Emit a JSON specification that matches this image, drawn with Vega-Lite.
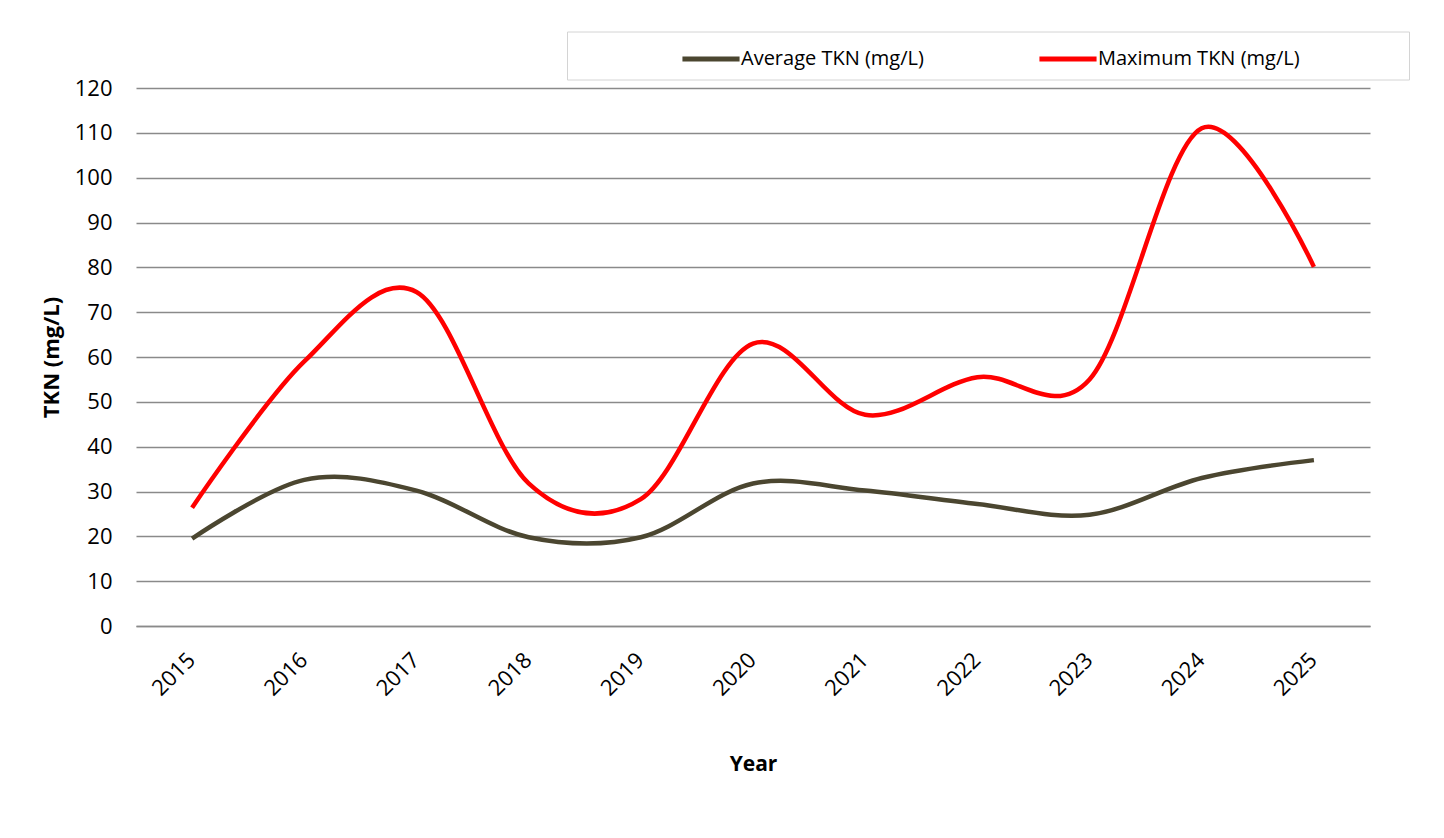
{
  "$schema": "https://vega.github.io/schema/vega-lite/v6.json",
  "width": 1234,
  "height": 538,
  "autosize": {"type": "none"},
  "padding": {"left": 136, "top": 88, "right": 74, "bottom": 212},
  "background": "white",
  "config": {
    "view": {"stroke": null},
    "font": "Open Sans"
  },
  "data": {
    "values": [
      {"Year": "2015", "Series": "Average TKN (mg/L)", "TKN": 19.5},
      {"Year": "2016", "Series": "Average TKN (mg/L)", "TKN": 32.6},
      {"Year": "2017", "Series": "Average TKN (mg/L)", "TKN": 30.2},
      {"Year": "2018", "Series": "Average TKN (mg/L)", "TKN": 19.8},
      {"Year": "2019", "Series": "Average TKN (mg/L)", "TKN": 19.8},
      {"Year": "2020", "Series": "Average TKN (mg/L)", "TKN": 31.8},
      {"Year": "2021", "Series": "Average TKN (mg/L)", "TKN": 30.2},
      {"Year": "2022", "Series": "Average TKN (mg/L)", "TKN": 27.2},
      {"Year": "2023", "Series": "Average TKN (mg/L)", "TKN": 24.8},
      {"Year": "2024", "Series": "Average TKN (mg/L)", "TKN": 33.0},
      {"Year": "2025", "Series": "Average TKN (mg/L)", "TKN": 37.0},
      {"Year": "2015", "Series": "Maximum TKN (mg/L)", "TKN": 26.4},
      {"Year": "2016", "Series": "Maximum TKN (mg/L)", "TKN": 59.0},
      {"Year": "2017", "Series": "Maximum TKN (mg/L)", "TKN": 74.5},
      {"Year": "2018", "Series": "Maximum TKN (mg/L)", "TKN": 31.8},
      {"Year": "2019", "Series": "Maximum TKN (mg/L)", "TKN": 28.3},
      {"Year": "2020", "Series": "Maximum TKN (mg/L)", "TKN": 63.0},
      {"Year": "2021", "Series": "Maximum TKN (mg/L)", "TKN": 47.1},
      {"Year": "2022", "Series": "Maximum TKN (mg/L)", "TKN": 55.5},
      {"Year": "2023", "Series": "Maximum TKN (mg/L)", "TKN": 55.0},
      {"Year": "2024", "Series": "Maximum TKN (mg/L)", "TKN": 111.0},
      {"Year": "2025", "Series": "Maximum TKN (mg/L)", "TKN": 80.1}
    ]
  },
  "mark": {"type": "line", "interpolate": "cardinal", "strokeWidth": 4.5, "strokeCap": "butt"},
  "encoding": {
    "x": {
      "field": "Year",
      "type": "ordinal",
      "scale": {"type": "point", "padding": 0.5},
      "axis": {
        "title": "Year",
        "titleFont": "Open Sans",
        "titleFontSize": 21,
        "titleFontWeight": "bold",
        "titleColor": "black",
        "titlePadding": 54,
        "labelAngle": -45,
        "labelFont": "Open Sans",
        "labelFontSize": 22,
        "labelColor": "black",
        "labelPadding": 23,
        "labelOffset": -8,
        "ticks": false,
        "domain": true,
        "domainColor": "#8a8a8a",
        "domainWidth": 1.5,
        "grid": false
      }
    },
    "y": {
      "field": "TKN",
      "type": "quantitative",
      "scale": {"domain": [0, 120], "nice": false, "zero": true},
      "axis": {
        "title": "TKN (mg/L)",
        "titleFont": "Open Sans",
        "titleFontSize": 22,
        "titleFontWeight": "bold",
        "titleColor": "black",
        "titlePadding": 11,
        "values": [0, 10, 20, 30, 40, 50, 60, 70, 80, 90, 100, 110, 120],
        "labelFont": "Open Sans",
        "labelFontSize": 22,
        "labelColor": "black",
        "labelPadding": 24,
        "ticks": false,
        "domain": false,
        "grid": true,
        "gridColor": "#8a8a8a",
        "gridWidth": 1.5
      }
    },
    "color": {
      "field": "Series",
      "type": "nominal",
      "scale": {
        "domain": ["Average TKN (mg/L)", "Maximum TKN (mg/L)"],
        "range": ["#4b4630", "#ff0000"]
      },
      "legend": {
        "orient": "none",
        "legendX": 431,
        "legendY": -56.5,
        "direction": "horizontal",
        "title": " ",
        "titleOrient": "left",
        "titlePadding": 116.5,
        "padding": 10.5,
        "strokeColor": "#d4d4d4",
        "fillColor": "white",
        "symbolType": "M-1.97,0H1.97",
        "symbolSize": 841,
        "symbolStrokeWidth": 5,
        "labelFont": "Open Sans",
        "labelFontSize": 20,
        "labelColor": "black",
        "labelOffset": 13,
        "labelLimit": 600,
        "columnPadding": 105,
        "labelExpr": "(datum.label == 'Maximum TKN (mg/L)' || datum.value == 'Maximum TKN (mg/L)') ? datum.label + '\u00a0\u00a0\u00a0\u00a0\u00a0\u00a0\u00a0\u00a0\u00a0\u00a0\u00a0\u00a0\u00a0\u00a0\u00a0\u00a0\u2800' : datum.label"
      }
    }
  }
}
